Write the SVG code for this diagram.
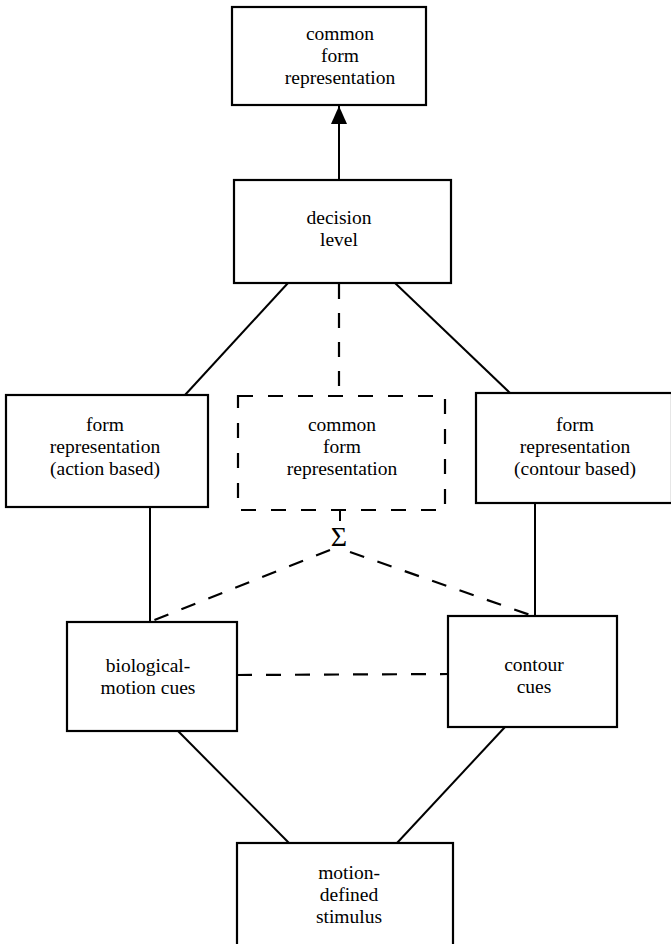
<svg xmlns="http://www.w3.org/2000/svg" width="671" height="944" viewBox="0 0 671 944">
<style>
.box{fill:#fff;stroke:#000;stroke-width:2.2}
.dbox{fill:none;stroke:#000;stroke-width:2.2;stroke-dasharray:15 15}
.ln{fill:none;stroke:#000;stroke-width:2}
.dl{fill:none;stroke:#000;stroke-width:2.2;stroke-dasharray:15 14}
.t{font-family:'Liberation Serif','DejaVu Serif',serif;font-size:19.5px;fill:#000;text-anchor:middle}
</style>
<defs>
<marker id="arr" viewBox="0 0 18 16" refX="18" refY="8" markerWidth="18" markerHeight="16" markerUnits="userSpaceOnUse" orient="auto">
<path d="M0,0 L18,8 L0,16 Z" fill="#000"/>
</marker>
</defs>
<g id="connectors">
<line class="ln" x1="339" y1="179" x2="339" y2="106" marker-end="url(#arr)"/>
<line class="ln" x1="288" y1="283" x2="185" y2="395"/>
<line class="ln" x1="395" y1="283" x2="510" y2="393"/>
<line class="dl" x1="339" y1="284" x2="339" y2="396"/>
<line class="ln" x1="150" y1="507" x2="150" y2="622"/>
<line class="ln" x1="535" y1="503" x2="535" y2="616"/>
<line class="ln" x1="340" y1="510" x2="340" y2="521"/>
<line class="dl" x1="330" y1="550" x2="152" y2="621"/>
<line class="dl" x1="350" y1="552" x2="533" y2="616"/>
<line class="dl" x1="237" y1="675" x2="448" y2="674"/>
<line class="ln" x1="178" y1="731" x2="289" y2="843"/>
<line class="ln" x1="505" y1="727" x2="397" y2="843"/>
</g>
<g id="top">
<rect class="box" x="232" y="7" width="194" height="98"/>
<text class="t" x="340" y="40">common</text>
<text class="t" x="340" y="62">form</text>
<text class="t" x="340" y="84">representation</text>
</g>
<g id="decision">
<rect class="box" x="234" y="180" width="217" height="103"/>
<text class="t" x="339" y="224">decision</text>
<text class="t" x="339" y="246">level</text>
</g>
<g id="form-action">
<rect class="box" x="6" y="395" width="202" height="112"/>
<text class="t" x="105" y="431">form</text>
<text class="t" x="105" y="453">representation</text>
<text class="t" x="105" y="475">(action based)</text>
</g>
<g id="common-dashed">
<rect class="dbox" x="238" y="396" width="207" height="114"/>
<text class="t" x="342" y="431">common</text>
<text class="t" x="342" y="453">form</text>
<text class="t" x="342" y="475">representation</text>
</g>
<g id="form-contour">
<rect class="box" x="476" y="393" width="196" height="110"/>
<text class="t" x="575" y="431">form</text>
<text class="t" x="575" y="453">representation</text>
<text class="t" x="575" y="475">(contour based)</text>
</g>
<g id="sum">
<text class="t" x="339" y="546" style="font-size:28px">Σ</text>
</g>
<g id="bio">
<rect class="box" x="67" y="622" width="170" height="109"/>
<text class="t" x="148" y="672">biological-</text>
<text class="t" x="148" y="694">motion cues</text>
</g>
<g id="contour">
<rect class="box" x="448" y="616" width="169" height="111"/>
<text class="t" x="534" y="671">contour</text>
<text class="t" x="534" y="693">cues</text>
</g>
<g id="stimulus">
<rect class="box" x="237" y="843" width="216" height="110"/>
<text class="t" x="349" y="879">motion-</text>
<text class="t" x="349" y="901">defined</text>
<text class="t" x="349" y="923">stimulus</text>
</g>
</svg>
